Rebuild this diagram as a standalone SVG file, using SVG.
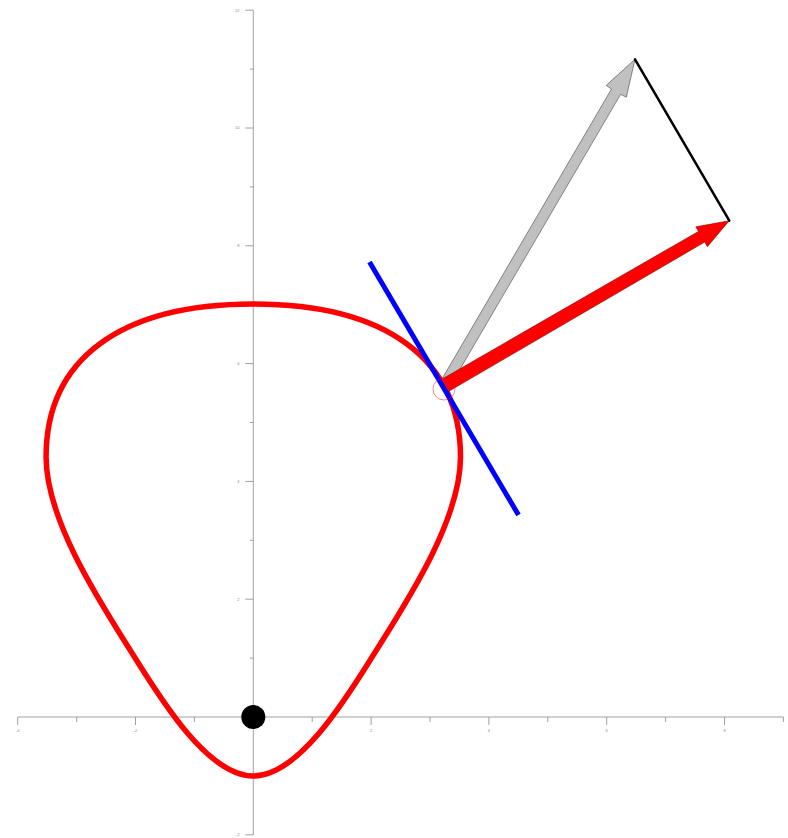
<svg xmlns="http://www.w3.org/2000/svg" width="788" height="838" viewBox="0 0 788 838">
<style>
.axis{stroke:#a0a0a0;stroke-width:1;fill:none}
.tick{stroke:#a0a0a0;stroke-width:1}
.lbl{font-family:"Liberation Sans",Arial,sans-serif;font-size:4px;fill:#888}
</style>
<rect width="788" height="838" fill="#fff"/>
<g id="axes">
<line class="axis" x1="17.7" y1="717" x2="783.4" y2="717"/>
<line class="axis" x1="253.3" y1="10.2" x2="253.3" y2="834.8"/>
<g class="tick">
<line x1="17.7" y1="717" x2="17.7" y2="725"/>
<line x1="76.6" y1="717" x2="76.6" y2="722"/>
<line x1="135.5" y1="717" x2="135.5" y2="725"/>
<line x1="194.4" y1="717" x2="194.4" y2="722"/>
<line x1="312.2" y1="717" x2="312.2" y2="722"/>
<line x1="371.1" y1="717" x2="371.1" y2="725"/>
<line x1="430" y1="717" x2="430" y2="722"/>
<line x1="488.9" y1="717" x2="488.9" y2="725"/>
<line x1="547.8" y1="717" x2="547.8" y2="722"/>
<line x1="606.7" y1="717" x2="606.7" y2="725"/>
<line x1="665.6" y1="717" x2="665.6" y2="722"/>
<line x1="724.5" y1="717" x2="724.5" y2="725"/>
<line x1="783.4" y1="717" x2="783.4" y2="722"/>
<line x1="245.3" y1="834.8" x2="253.3" y2="834.8"/>
<line x1="249.8" y1="775.9" x2="253.3" y2="775.9"/>
<line x1="249.8" y1="658.1" x2="253.3" y2="658.1"/>
<line x1="245.3" y1="599.2" x2="253.3" y2="599.2"/>
<line x1="249.8" y1="540.3" x2="253.3" y2="540.3"/>
<line x1="245.3" y1="481.4" x2="253.3" y2="481.4"/>
<line x1="249.8" y1="422.5" x2="253.3" y2="422.5"/>
<line x1="245.3" y1="363.6" x2="253.3" y2="363.6"/>
<line x1="249.8" y1="304.7" x2="253.3" y2="304.7"/>
<line x1="245.3" y1="245.8" x2="253.3" y2="245.8"/>
<line x1="249.8" y1="186.9" x2="253.3" y2="186.9"/>
<line x1="245.3" y1="128" x2="253.3" y2="128"/>
<line x1="249.8" y1="69.1" x2="253.3" y2="69.1"/>
<line x1="245.3" y1="10.2" x2="253.3" y2="10.2"/>
</g>
<g class="lbl" text-anchor="middle">
<text x="17.7" y="732">-4</text>
<text x="135.5" y="732">-2</text>
<text x="371.1" y="732">2</text>
<text x="488.9" y="732">4</text>
<text x="606.7" y="732">6</text>
<text x="724.5" y="732">8</text>
</g>
<g class="lbl" text-anchor="end">
<text x="239.5" y="836.2">-2</text>
<text x="239.5" y="600.6">2</text>
<text x="239.5" y="482.8">4</text>
<text x="239.5" y="365">6</text>
<text x="239.5" y="247.2">8</text>
<text x="239.5" y="129.4">10</text>
<text x="239.5" y="11.6">12</text>
</g>
</g>
<g id="curve">
<path d="M253.3,304 C386,304 460.5,359 460.5,457 C460.5,522 403.3,607.1 371.5,658 C345,700.4 298.3,776 253.3,776 C208.3,776 161.6,700.4 135.1,658 C103.3,607.1 46.1,522 46.1,457 C46.1,359 120.6,304 253.3,304 Z" fill="none" stroke="#ff0000" stroke-width="5.5"/>
</g>
<g id="connectors">
<g id="gray-arrow">
<polygon transform="translate(444,386) rotate(-59.69)" points="0,-5.3 340.9,-5.3 341.4,-11.7 378.4,0 341.4,11.7 340.9,5.3 0,5.3" fill="#c0c0c0" stroke="#555" stroke-width="0.6" stroke-linejoin="miter"/>
</g>
<g id="red-arrow">
<polygon transform="translate(444,386) rotate(-30.09)" points="0,-7 297.7,-6.2 297.7,-11.5 329.7,0 297.7,11.5 297.7,6.2 0,7" fill="#ff0000" stroke="#700" stroke-width="0.5"/>
</g>
<g id="tangent-line">
<line x1="369.5" y1="262" x2="518.5" y2="515" stroke="#0000ff" stroke-width="5"/>
</g>
<g id="difference-line">
<line x1="635" y1="59.3" x2="729.3" y2="220.7" stroke="#000" stroke-width="2.5" stroke-linecap="round"/>
</g>
</g>
<g id="point-marker">
<circle cx="444" cy="389" r="11" fill="none" stroke="#ff0000" stroke-opacity="0.6" stroke-width="0.8"/>
</g>
<g id="origin">
<circle cx="253.3" cy="717" r="12" fill="#000"/>
</g>
</svg>
